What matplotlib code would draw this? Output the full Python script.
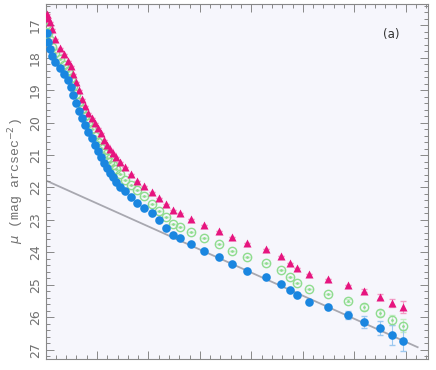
import numpy as np
import matplotlib
matplotlib.use("Agg")
import matplotlib.pyplot as plt
from matplotlib.ticker import MultipleLocator

# radius (arbitrary scale, no labels on x axis)
r = [0.03, 0.05, 0.09, 0.13, 0.18, 0.28, 0.36, 0.44, 0.50, 0.53,
     0.59, 0.65, 0.71, 0.77, 0.83, 0.90, 0.96, 1.02, 1.08, 1.14,
     1.19, 1.25, 1.31, 1.37, 1.45, 1.54, 1.66, 1.78, 1.91, 2.07,
     2.20, 2.34, 2.48, 2.61, 2.83, 3.08, 3.37, 3.62, 3.91, 4.28,
     4.57, 4.75, 4.88, 5.12, 5.49, 5.87, 6.18, 6.50, 6.73, 6.94]

mu_blue = [17.25, 17.52, 17.74, 17.95, 18.14, 18.32, 18.51, 18.69, 18.91, 19.15,
           19.40, 19.65, 19.86, 20.08, 20.29, 20.48, 20.69, 20.88, 21.06, 21.25,
           21.40, 21.55, 21.68, 21.83, 21.98, 22.11, 22.29, 22.48, 22.63, 22.78,
           23.00, 23.25, 23.46, 23.55, 23.74, 23.95, 24.14, 24.35, 24.57, 24.75,
           24.97, 25.15, 25.31, 25.52, 25.68, 25.92, 26.14, 26.32, 26.54, 26.72]

mu_pink = [16.66, 16.78, 16.91, 17.12, 17.43, 17.71, 17.89, 18.11, 18.26, 18.51,
           18.75, 19.00, 19.28, 19.49, 19.71, 19.86, 20.02, 20.17, 20.32, 20.54,
           20.69, 20.82, 20.94, 21.06, 21.22, 21.37, 21.58, 21.80, 21.95, 22.14,
           22.32, 22.51, 22.69, 22.78, 22.97, 23.15, 23.34, 23.52, 23.71, 23.89,
           24.11, 24.32, 24.48, 24.66, 24.82, 25.00, 25.18, 25.37, 25.55, 25.68]

mu_green = [16.97, 17.25, 17.46, 17.68, 17.86, 18.05, 18.23, 18.42, 18.63, 18.88,
            19.12, 19.37, 19.58, 19.80, 20.02, 20.20, 20.42, 20.60, 20.78, 20.94,
            21.09, 21.22, 21.31, 21.43, 21.58, 21.77, 21.92, 22.08, 22.26, 22.51,
            22.72, 22.91, 23.12, 23.22, 23.37, 23.55, 23.74, 23.95, 24.14, 24.32,
            24.54, 24.75, 24.94, 25.12, 25.28, 25.49, 25.68, 25.86, 26.08, 26.26]

# errors only noticeable on the outer points
err_blue = [0.0] * 44 + [0.05, 0.12, 0.18, 0.22, 0.3, 0.32]
err_pink = [0.0] * 46 + [0.05, 0.08, 0.12, 0.18]
err_green = [0.0] * 45 + [0.05, 0.08, 0.1, 0.15, 0.2]

# disk fit line
fit_r = [0.03, 7.23]
fit_mu = [21.80, 26.92]

c_blue = "#1a86e0"
c_pink = "#e6157f"
c_green = "#8fdc8f"
c_text = "#707070"

fig = plt.figure(figsize=(4.36, 3.70), dpi=100)
fig.patch.set_facecolor("white")
ax = fig.add_axes([0.1055, 0.030, 0.876, 0.959])
ax.set_facecolor("#f6f6fc")

ax.plot(fit_r, fit_mu, color="#a8a8b0", lw=1.3, zorder=1)

ax.errorbar(r, mu_green, yerr=err_green, fmt="none", ecolor="#c5eec5", elinewidth=0.8, capsize=2, zorder=2)
ax.plot(r, mu_green, "o", ms=6, mfc="none", mec=c_green, mew=1.0, zorder=3)
ax.plot(r, mu_green, "o", ms=2, mfc=c_green, mec="none", zorder=3)

ax.errorbar(r, mu_pink, yerr=err_pink, fmt="none", ecolor="#f39cc6", elinewidth=0.8, capsize=2, zorder=2)
ax.plot(r, mu_pink, "^", ms=5.5, color=c_pink, mec="none", zorder=4)

ax.errorbar(r, mu_blue, yerr=err_blue, fmt="none", ecolor="#9cc8f0", elinewidth=0.8, capsize=2.5, zorder=2)
ax.plot(r, mu_blue, "o", ms=6.2, color=c_blue, mec="none", zorder=5)

ax.set_xlim(0.01, 7.43)
ax.set_ylim(27.28, 16.35)

ax.xaxis.set_major_locator(MultipleLocator(1))
ax.xaxis.set_minor_locator(MultipleLocator(0.2))
ax.yaxis.set_major_locator(MultipleLocator(1))
ax.yaxis.set_minor_locator(MultipleLocator(0.2))
ax.tick_params(which="both", direction="in", top=True, right=True, color="#888888", width=0.7)
ax.tick_params(which="major", length=6)
ax.tick_params(which="minor", length=3)
ax.set_xticklabels([])
for lbl in ax.get_yticklabels():
    lbl.set_rotation(90)
    lbl.set_va("center")
ax.tick_params(axis="y", labelsize=9, labelcolor=c_text, pad=3)

for s in ax.spines.values():
    s.set_color("#888888")
    s.set_linewidth(0.8)

ax.set_ylabel(r"$\mu$ (mag arcsec$^{-2}$)", fontsize=9.5, color=c_text, family="Liberation Mono", labelpad=2)
ax.text(0.905, 0.915, "(a)", transform=ax.transAxes, fontsize=8.5, color="#333333", ha="center", va="center")

fig.savefig("out.png", dpi=100)
